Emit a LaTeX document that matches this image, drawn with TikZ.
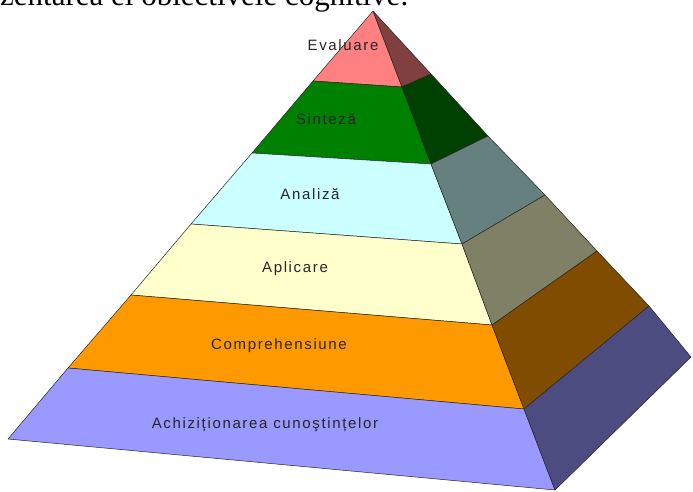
\documentclass[tikz,border=0pt]{standalone}
\usepackage{fontspec}
\setmainfont{Liberation Serif}
\newfontfamily\tagfont[LetterSpace=11]{Liberation Sans}
\usetikzlibrary{calc}
\definecolor{Ev}{RGB}{255,128,128}
\definecolor{Si}{RGB}{0,128,0}
\definecolor{An}{RGB}{204,255,255}
\definecolor{Ap}{RGB}{255,255,204}
\definecolor{Co}{RGB}{255,153,0}
\definecolor{Ac}{RGB}{153,153,255}
\tikzset{%
  front/.style = {
    fill = #1,
    draw = black!85,
    line width = 0.5pt,
    line join = round,
  },
  side/.style = {
    fill = #1!50!black,
    draw = black!85,
    line width = 0.5pt,
    line join = round,
  },
  tag/.style = {
    font = \tagfont\fontsize{15}{18}\selectfont,
    text = black!85,
    inner sep = 0pt,
  },
}

\begin{document}
\begin{tikzpicture}[x=1pt, y=-1pt]
  \useasboundingbox (0,0) rectangle (693,491);
  % cut-off line of the page above
  \node[anchor=base west, inner sep=0pt, font=\fontsize{31}{36}\selectfont]
    (caption) at (0,5) {zentarea ei obiectivele cognitive.};
  % left edge, front ridge, right edge
  \coordinate (L0) at (373,11);
  \coordinate (F0) at (373,11);
  \coordinate (R0) at (373,11);
  \coordinate (L1) at (313,81);  \coordinate (F1) at (402,87);  \coordinate (R1) at (431,74);
  \coordinate (L2) at (252,153); \coordinate (F2) at (431,164); \coordinate (R2) at (488,136);
  \coordinate (L3) at (191,224); \coordinate (F3) at (462,244); \coordinate (R3) at (545,195);
  \coordinate (L4) at (131,295); \coordinate (F4) at (492,325); \coordinate (R4) at (597,251);
  \coordinate (L5) at (68,368);  \coordinate (F5) at (524,409); \coordinate (R5) at (649,306);
  \coordinate (L6) at (8,439);   \coordinate (F6) at (555,490); \coordinate (R6) at (691,357);
  \foreach \c [count=\j, remember=\j as \i (initially 0)] in {Ev,Si,An,Ap,Co,Ac} {
    \draw[front=\c] (L\i) -- (F\i) -- (F\j) -- (L\j) -- cycle;
    \draw[side=\c]  (F\i) -- (R\i) -- (R\j) -- (F\j) -- cycle;
  }
  \node[tag] (ev) at (343,45)  {Evaluare};
  \node[tag] (si) at (326,119) {Sinteză};
  \node[tag] (an) at (310,194) {Analiză};
  \node[tag] (ap) at (295,269) {Aplicare};
  \node[tag] (co) at (279,346) {Comprehensiune};
  \node[tag] (ac) at (265,425) {Achiziționarea cunoştințelor};
\end{tikzpicture}
\end{document}
